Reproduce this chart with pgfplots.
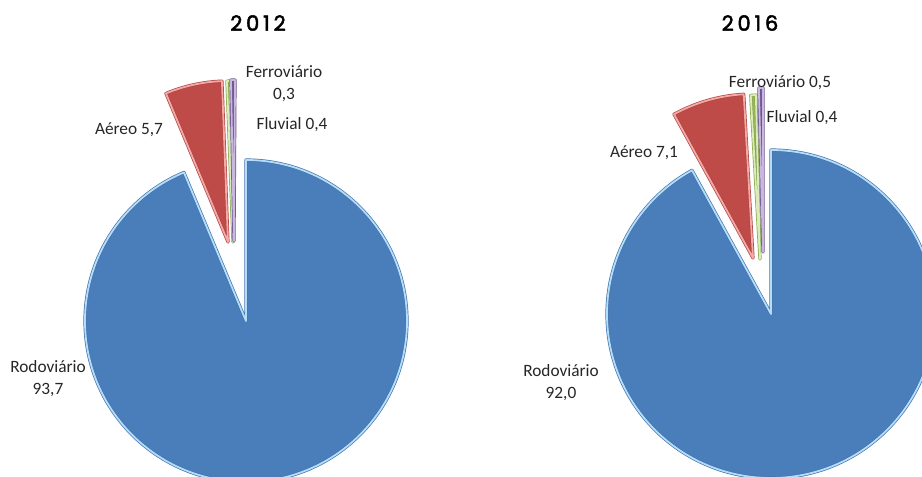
\documentclass[border=0pt]{standalone}
\usepackage{pgfplots}
\pgfplotsset{compat=1.18}
\usepackage{fontspec}
\setmainfont{Carlito}
\newfontfamily\titlefont{Poppins}[LetterSpace=18, FakeBold=2.4]
\definecolor{cBlue}{HTML}{4A7EBB}
\definecolor{cBlueD}{HTML}{4474AD}
\definecolor{cBlueL}{HTML}{B3DDF9}
\definecolor{cRed}{HTML}{BE4B48}
\definecolor{cRedD}{HTML}{B04542}
\definecolor{cRedL}{HTML}{F5A9A6}
\definecolor{cGreen}{HTML}{98B954}
\definecolor{cGreenD}{HTML}{87A84A}
\definecolor{cGreenL}{HTML}{DCEBBE}
\definecolor{cPurple}{HTML}{7D60A0}
\definecolor{cPurpleD}{HTML}{6E538F}
\definecolor{cPurpleL}{HTML}{C8B8DD}
% #1 cumulative share before slice, #2 share (%), #3,#4 apex (px), #5 radius, #6 colour base name
\newcommand{\slice}[6]{%
  \pgfmathsetmacro\sa{90-3.6*#1}%
  \pgfmathsetmacro\ea{90-3.6*(#1+#2)}%
  \edef\next{\noexpand\path[fill=#6, draw=#6D, double=#6L, double distance=1.8pt, line width=0.7pt, line join=round]
    (axis cs:#3,#4) -- ++(\sa:#5) arc[start angle=\sa, end angle=\ea, radius=#5] -- cycle;}%
  \next}
\begin{document}
\begin{tikzpicture}
\begin{axis}[scale only axis, width=922pt, height=477pt,
  xmin=0, xmax=922, ymin=0, ymax=477, y dir=reverse,
  hide axis, clip=true]
% ---- 2012: Rodoviario 93.7, Aereo 5.7, Ferroviario 0.3, Fluvial 0.4
\slice{0}{93.7}{246}{321}{161pt}{cBlue}
\slice{93.7}{5.7}{228}{242}{161pt}{cRed}
\slice{99.4}{0.3}{233}{242}{161pt}{cGreen}
\slice{99.7}{0.4}{234}{241}{161pt}{cPurple}
% ---- 2016: Rodoviario 92.0, Aereo 7.1, Ferroviario 0.5, Fluvial 0.4
\slice{0}{92.0}{771}{314}{164pt}{cBlue}
\slice{92.0}{7.1}{753}{258}{164pt}{cRed}
\slice{99.1}{0.5}{760}{259}{164pt}{cGreen}
\slice{99.6}{0.4}{763}{252}{164pt}{cPurple}
% titles
\node[font=\titlefont\fontsize{21}{24}\selectfont] at (axis cs:258,23) {2012};
\node[font=\titlefont\fontsize{21}{24}\selectfont] at (axis cs:750,23) {2016};
% labels
\tikzset{lbl/.style={font=\fontsize{17.3}{22}\selectfont, align=center, text=black!85, inner sep=0pt}}
\node[lbl] at (axis cs:284,84) {Ferroviário\\0,3};
\node[lbl] at (axis cs:292,125) {Fluvial 0,4};
\node[lbl] at (axis cs:129,130) {Aéreo 5,7};
\node[lbl] at (axis cs:48,379) {Rodoviário\\93,7};
\node[lbl] at (axis cs:780,83) {Ferroviário 0,5};
\node[lbl] at (axis cs:802,118) {Fluvial 0,4};
\node[lbl] at (axis cs:644,153) {Aéreo 7,1};
\node[lbl] at (axis cs:561,383) {Rodoviário\\92,0};
\end{axis}
\pgfresetboundingbox
\useasboundingbox (current axis.south west) rectangle (current axis.north east);
\end{tikzpicture}
\end{document}
